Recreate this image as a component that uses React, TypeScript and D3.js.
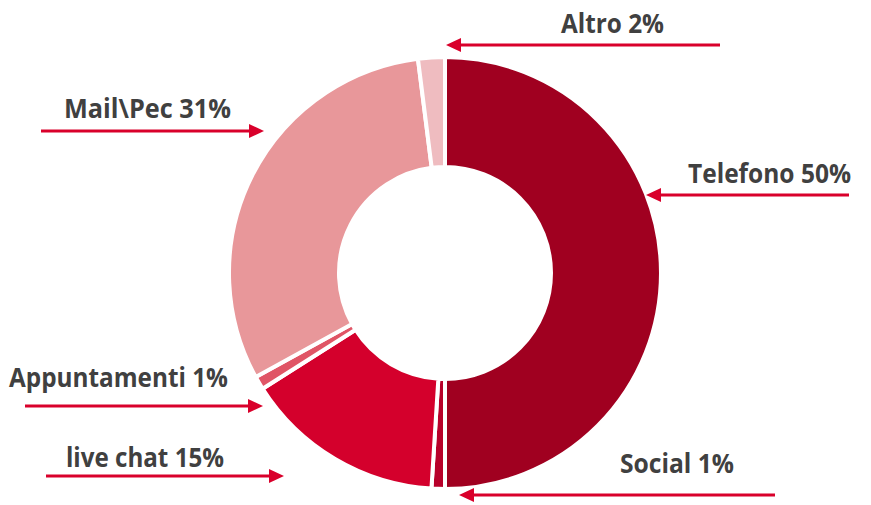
import React from "react";
import * as d3 from "d3";

const categories = ["Telefono", "Social", "live chat", "Appuntamenti", "Mail\\Pec", "Altro"];
const values = [50, 1, 15, 1, 31, 2];
const colors = ["#a00020", "#b8002a", "#d4002c", "#e05566", "#e8979a", "#efbcc0"];

// label layout: text anchor point (x, baseline) and arrow (from x1 to tip x2 at y)
const labelLayout = [
  { tx: 851, ty: 183, tw: 163, x1: 849, x2: 646, ay: 195 },
  { tx: 734, ty: 473, tw: 114, x1: 775, x2: 459, ay: 495 },
  { tx: 224, ty: 467, tw: 158, x1: 46, x2: 284, ay: 476 },
  { tx: 228, ty: 387, tw: 219, x1: 25, x2: 263, ay: 406 },
  { tx: 231, ty: 118, tw: 167, x1: 41, x2: 264, ay: 131 },
  { tx: 664, ty: 33, tw: 103, x1: 720, x2: 446, ay: 45 },
];

const W = 871;
const H = 505;
const cx = 445;
const cy = 273;

export default function App() {
  const pie = d3.pie<number>().sort(null).value((d) => d);
  const arcs = pie(values);
  const arc = d3.arc<d3.PieArcDatum<number>>().innerRadius(106).outerRadius(216);

  return (
    <svg
      width={W}
      height={H}
      style={{ position: "absolute", left: 0, top: 0, background: "#fff" }}
      fontFamily="'Open Sans', sans-serif"
    >
      <g transform={`translate(${cx},${cy})`}>
        {arcs.map((a, i) => (
          <path key={i} d={arc(a) || ""} fill={colors[i]} stroke="#fff" strokeWidth={4} strokeLinejoin="miter" />
        ))}
      </g>
      {labelLayout.map((l, i) => {
        const dir = l.x2 > l.x1 ? 1 : -1;
        const headLen = 15;
        const headHalf = 7;
        const base = l.x2 - dir * headLen;
        return (
          <g key={i}>
            <text
              x={l.tx}
              y={l.ty}
              textAnchor="end"
              fontSize={26}
              fontWeight={700}
              fill="#404040"
              textLength={l.tw}
              lengthAdjust="spacingAndGlyphs"
            >
              {`${categories[i]} ${values[i]}%`}
            </text>
            <line x1={l.x1} y1={l.ay} x2={base} y2={l.ay} stroke="#d9002b" strokeWidth={3} />
            <polygon
              points={`${l.x2},${l.ay} ${base},${l.ay - headHalf} ${base},${l.ay + headHalf}`}
              fill="#d9002b"
            />
          </g>
        );
      })}
    </svg>
  );
}
